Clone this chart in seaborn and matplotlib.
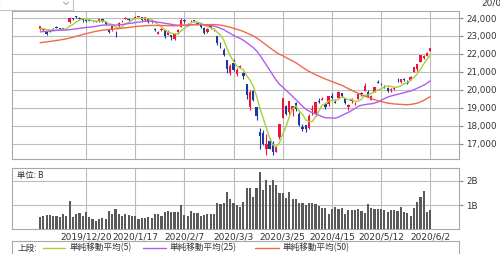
import numpy as np
import pandas as pd
import matplotlib
matplotlib.use("Agg")
import matplotlib.pyplot as plt
import seaborn as sns
from matplotlib.patches import Rectangle
from matplotlib.lines import Line2D
from matplotlib.ticker import FuncFormatter

# ---------------- data ----------------
month_days = [
    (2019, 12, [2, 3, 4, 5, 6, 9, 10, 11, 12, 13, 16, 17, 18, 19, 20, 23, 24, 25, 26, 27, 30]),
    (2020, 1, [6, 7, 8, 9, 10, 14, 15, 16, 17, 20, 21, 22, 23, 24, 27, 28, 29, 30, 31]),
    (2020, 2, [3, 4, 5, 6, 7, 10, 12, 13, 14, 17, 18, 19, 20, 21, 25, 26, 27, 28]),
    (2020, 3, [2, 3, 4, 5, 6, 9, 10, 11, 12, 13, 16, 17, 18, 19, 23, 24, 25, 26, 27, 30, 31]),
    (2020, 4, [1, 2, 3, 6, 7, 8, 9, 10, 13, 14, 15, 16, 17, 20, 21, 22, 23, 24, 27, 28, 30]),
    (2020, 5, [1, 7, 8, 11, 12, 13, 14, 15, 18, 19, 20, 21, 22, 25, 26, 27, 28, 29]),
    (2020, 6, [1, 2]),
]
dates = [f"{y}/{m}/{d}" for y, m, ds in month_days for d in ds]

opens = [
    23403, 23336, 23230, 23302, 23375, 23500, 23413, 23392, 23433, 23800, 24019, 24102, 24018, 23919, 23872, 23871, 23807, 23796, 23813, 23967, 23757,
    23320, 23320, 23217, 23530, 23813, 23969, 23950, 23936, 24026, 24056, 24064, 23891, 23989, 23774, 23416, 23113, 23325, 23308, 23062,
    23039, 22823, 23196, 23486, 23914, 23646, 23812, 23915, 23734, 23587, 23443, 23200, 23622, 23362, 22988, 22451, 22238, 21650,
    20948, 21511, 20897, 21252, 20953, 20343, 19040, 19935, 19064, 17649, 17586, 16726, 17154, 16995, 16570, 17357, 18446, 19080, 18756, 18868, 19270,
    18686, 17934, 18043, 17857, 18878, 18733, 19347, 19436, 19216, 19239, 19681, 19327, 19579, 19806, 19554, 19045, 19372, 19251, 19504, 19809, 19947,
    19883, 19468, 19913, 20396, 20394, 20291, 20130, 20010, 20063, 20462, 20432, 20619, 20442, 20546, 20998, 21143, 21551, 21760,
    21878, 22164,
]
highs = [
    23534, 23441, 23250, 23360, 23426, 23541, 23460, 23453, 23464, 24070, 24024, 24135, 24046, 23944, 23927, 23877, 23841, 23824, 23931, 23967, 23782,
    23365, 23577, 23303, 23767, 23903, 24059, 23981, 23963, 24115, 24115, 24072, 24059, 24001, 23852, 23421, 23292, 23430, 23308, 23311,
    23073, 23104, 23412, 23995, 23960, 23738, 23870, 23915, 23769, 23645, 23480, 23447, 23623, 23469, 22988, 22653, 22325, 21683,
    21442, 21719, 21245, 21399, 20999, 20347, 20020, 19999, 19064, 17876, 17785, 17557, 17350, 17160, 16887, 18092, 19564, 19172, 19389, 19115, 19336,
    18784, 18132, 18059, 18672, 19162, 19353, 19543, 19599, 19287, 19664, 19833, 19502, 19922, 19845, 19555, 19227, 19534, 19353, 19814, 19909, 20365,
    19980, 19703, 20186, 20534, 20405, 20302, 20149, 20131, 20172, 20652, 20611, 20683, 20555, 20760, 21296, 21451, 21961, 21916,
    22113, 22356,
]
lows = [
    23358, 23292, 23044, 23231, 23339, 23430, 23379, 23369, 23386, 23718, 23890, 24009, 23920, 23805, 23780, 23818, 23797, 23782, 23794, 23783, 23638,
    23148, 23299, 22951, 23506, 23761, 23951, 23847, 23884, 23998, 24034, 23844, 23847, 23726, 23724, 23274, 23101, 23267, 22892, 23049,
    22775, 22800, 23110, 23478, 23728, 23578, 23758, 23773, 23618, 23469, 23098, 23180, 23382, 23257, 22520, 22352, 21872, 20916,
    20834, 21052, 20795, 21218, 20613, 19472, 18891, 19368, 18339, 16690, 16914, 16378, 16726, 16358, 16570, 17254, 18446, 18630, 18664, 18578, 18826,
    18000, 17707, 17646, 17802, 18631, 18566, 19248, 19418, 18931, 19125, 19484, 19274, 19575, 19581, 19223, 18891, 19301, 19163, 19486, 19689, 19947,
    19587, 19448, 19878, 20362, 20248, 20114, 19902, 19866, 20011, 20418, 20411, 20518, 20335, 20541, 20996, 21059, 21533, 21720,
    21862, 22144,
]
closes = [
    23529, 23379, 23135, 23300, 23354, 23430, 23410, 23391, 23424, 24023, 23952, 24066, 23934, 23864, 23816, 23821, 23830, 23782, 23924, 23837, 23656,
    23204, 23575, 23204, 23739, 23850, 24025, 23916, 23933, 24041, 24083, 23864, 24031, 23795, 23827, 23343, 23215, 23379, 22977, 23205,
    22971, 23084, 23319, 23873, 23827, 23685, 23861, 23827, 23687, 23523, 23193, 23400, 23479, 23386, 22605, 22426, 21948, 21142,
    21344, 21082, 21100, 21329, 20749, 19698, 19867, 19416, 18559, 17431, 17002, 17011, 16726, 16552, 16887, 18092, 19546, 18664, 19389, 19084, 18917,
    18065, 17818, 17820, 18576, 18950, 19353, 19345, 19498, 19043, 19638, 19550, 19290, 19897, 19669, 19280, 19137, 19429, 19262, 19783, 19771, 20193,
    19619, 19674, 20179, 20390, 20366, 20267, 19914, 20037, 20133, 20433, 20595, 20552, 20388, 20741, 21271, 21419, 21916, 21877,
    22062, 22325,
]
# closes before the first visible day (needed for the moving averages)
prior_closes = [
    21960, 22044, 22079, 22098, 22020, 22048, 21878, 21755,
    21885, 21778, 21341, 21410, 21375, 21587, 21456, 21551, 21798, 22207, 22472, 22451, 22492, 22548, 22625, 22750, 22799, 22867, 22974, 22843, 22927,
    22850, 23251, 23303, 23330, 23391, 23331, 23520, 23319, 23141, 23303, 23416, 23292, 23148, 23038, 23112, 23292, 23373, 23437, 23409, 23293,
]
volume_b = [
    0.49, 0.56, 0.59, 0.60, 0.55, 0.53, 0.52, 0.62, 0.55, 1.17, 0.52, 0.64, 0.69, 0.53, 0.70, 0.49, 0.43, 0.36, 0.43, 0.47,
    0.44, 0.75, 0.64, 0.82, 0.62, 0.56, 0.64, 0.60, 0.56, 0.56, 0.41, 0.47, 0.48, 0.52, 0.48, 0.62, 0.64, 0.56, 0.73, 0.75,
    0.73, 0.71, 0.73, 0.99, 0.59, 0.55, 0.75, 0.69, 0.69, 0.53, 0.59, 0.62, 0.63, 0.62, 1.07, 1.03, 1.07, 1.54, 1.26, 1.08,
    0.99, 0.92, 1.14, 1.71, 1.69, 1.32, 1.69, 2.35, 1.62, 2.03, 1.82, 2.02, 1.81, 1.50, 1.50, 1.29, 1.54, 1.23, 1.23, 1.08,
    1.08, 1.00, 1.07, 1.08, 1.06, 0.95, 0.86, 0.86, 0.64, 0.82, 0.93, 0.85, 0.88, 0.64, 0.81, 0.80, 0.78, 0.84, 0.77, 0.69,
    1.04, 0.88, 0.85, 0.85, 0.85, 0.78, 0.73, 0.81, 0.80, 0.77, 0.93, 0.71, 0.66, 0.56, 0.86, 1.14, 1.34, 1.56, 0.71, 0.80,
]
tick_dates = ["2019/12/20", "2020/1/17", "2020/2/7", "2020/3/3", "2020/3/25", "2020/4/15", "2020/5/12", "2020/6/2"]
price_ticks = [17000, 18000, 19000, 20000, 21000, 22000, 23000, 24000]
vol_ticks = [1, 2]
vol_tick_labels = ["1B", "2B"]
ma_windows = [5, 25, 50]
ma_colors = ["#a9cf3a", "#b05cf2", "#f2694a"]
ma_labels = ["単純移動平均(5)", "単純移動平均(25)", "単純移動平均(50)"]

# ---------------- frame ----------------
n = len(dates)
idx = np.arange(n)
df = pd.DataFrame({"i": idx, "date": dates, "open": opens, "high": highs,
                   "low": lows, "close": closes, "vol": volume_b})
all_close = pd.Series(prior_closes + closes)
for w in ma_windows:
    df[f"ma{w}"] = all_close.rolling(w).mean().iloc[len(prior_closes):].to_numpy()

sns.set_style("white")
plt.rcParams["font.family"] = ["DejaVu Sans"]
JP = ["Noto Sans CJK JP", "DejaVu Sans"]
TXT = "#333333"
GRID = "#bcbcbc"
SPINE = "#a8a8a8"
RED = "#f0143c"
BLUE = "#1a3a9c"

W, H = 500, 254
fig = plt.figure(figsize=(W / 100, H / 100), dpi=100)
fx = lambda px: px / W
fy = lambda py: 1 - py / H

ax = fig.add_axes([fx(12), fy(158.5), fx(459) - fx(12), fy(10.7) - fy(158.5)])
axv = fig.add_axes([fx(12), fy(229.3), fx(459) - fx(12), fy(167.7) - fy(229.3)])

tick_pos = [dates.index(t) for t in tick_dates]
xlim = (-8.57, 127.75)

# ---- candles ----
up = df["close"] >= df["open"]
cols = np.where(up, RED, BLUE)
ax.vlines(df["i"], df["low"], df["high"], colors=cols, linewidth=0.8, zorder=3)
body_lo = np.minimum(df["open"], df["close"])
body_h = np.maximum(np.abs(df["close"] - df["open"]), 30)
ax.bar(df["i"], body_h, bottom=body_lo, width=0.72, color=cols, linewidth=0, zorder=4)

# ---- moving averages ----
for w, c in zip(ma_windows, ma_colors):
    sns.lineplot(data=df, x="i", y=f"ma{w}", color=c, linewidth=1.0, ax=ax, zorder=5)

ax.set_xlim(*xlim)
ax.set_ylim(16188, 24406)
ax.set_xticks(tick_pos)
ax.set_xticklabels([])
ax.set_yticks(price_ticks)
ax.yaxis.tick_right()
ax.yaxis.set_major_formatter(FuncFormatter(lambda v, p: f"{int(v):,}"))
ax.tick_params(axis="y", length=3, width=0.8, color="#888888", labelsize=6.3,
               labelcolor=TXT, pad=2)
ax.tick_params(axis="x", length=0)
ax.set_xlabel("")
ax.set_ylabel("")
ax.grid(True, color=GRID, linewidth=0.8, zorder=0)
ax.set_axisbelow(True)

# ---- volume ----
sns.barplot(data=df, x="i", y="vol", native_scale=True, color="#5a5a5a",
            saturation=1, width=0.66, linewidth=0, errorbar=None, ax=axv, zorder=3)
axv.set_xlim(*xlim)
axv.set_ylim(0, 2.535)
axv.set_xticks(tick_pos)
axv.set_xticklabels(tick_dates)
axv.set_yticks(vol_ticks)
axv.set_yticklabels(vol_tick_labels)
axv.yaxis.tick_right()
axv.tick_params(axis="y", length=3, width=0.8, color="#888888", labelsize=6.3,
                labelcolor=TXT, pad=2)
axv.tick_params(axis="x", length=0, labelsize=6.5, labelcolor=TXT, pad=2.0)
axv.set_xlabel("")
axv.set_ylabel("")
axv.grid(True, color=GRID, linewidth=0.8, zorder=0)
axv.set_axisbelow(True)

for a in (ax, axv):
    for s in a.spines.values():
        s.set_visible(True)
        s.set_color(SPINE)
        s.set_linewidth(0.8)

axv.text(0.012, 0.875, "単位: B", transform=axv.transAxes, fontsize=6.0,
         family=JP, color=TXT, va="center", ha="left")

# ---- legend strip ----
fig.add_artist(Rectangle((fx(12), fy(258)), fx(459) - fx(12), fy(240.7) - fy(258),
                         transform=fig.transFigure, facecolor="white",
                         edgecolor=SPINE, linewidth=0.8))
ly = fy(248)
fig.text(fx(18), ly, "上段:", fontsize=6.2, family=JP, color=TXT, va="center")
seg = [(43, 65, 70), (143, 166, 170), (255, 279, 283)]
for (x0, x1, xt), c, lab in zip(seg, ma_colors, ma_labels):
    fig.add_artist(Line2D([fx(x0), fx(x1)], [ly, ly], color=c, linewidth=1.0,
                          transform=fig.transFigure))
    fig.text(fx(xt), ly, lab, fontsize=6.2, family=JP, color=TXT, va="center")

# ---- top widgets ----
fig.add_artist(Rectangle((fx(-1), fy(9.5)), fx(73.5), fy(-2) - fy(9.5),
                         transform=fig.transFigure, facecolor="white",
                         edgecolor="#c4c4c4", linewidth=0.8))
fig.add_artist(Line2D([fx(63.5), fx(66), fx(68.5)], [fy(2.2), fy(4.5), fy(2.2)],
                      color="#a0a0a0", linewidth=0.7, transform=fig.transFigure))
# date stamp partly outside the picture, as in the reference
fig.text(fx(481), fy(5.5), "20/06/02", fontsize=6.5, color=TXT, va="baseline", ha="left")

fig.savefig("out.png", dpi=100, facecolor="white")
